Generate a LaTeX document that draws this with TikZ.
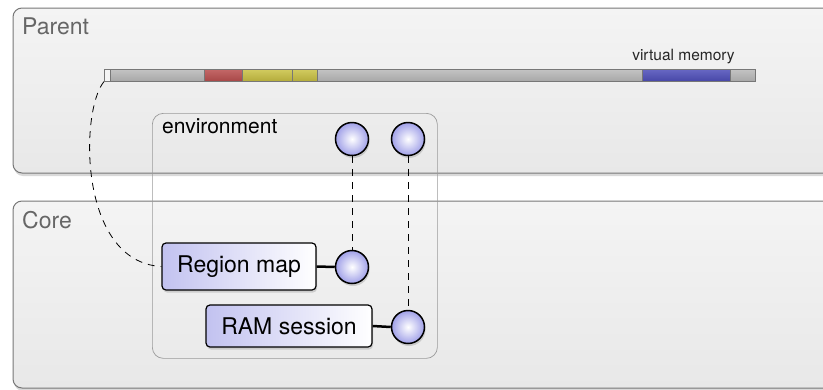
\documentclass[tikz,border=0pt]{standalone}
\usepackage{fontspec}
\setmainfont{TeX Gyre Heros}
\usetikzlibrary{shadows}
\definecolor{panelborder}{HTML}{777777}
\definecolor{paneltop}{HTML}{F4F4F4}
\definecolor{panelbot}{HTML}{E8E8E8}
\definecolor{labelgray}{HTML}{666666}
\definecolor{envborder}{HTML}{9A9A9A}
\definecolor{bargraytop}{HTML}{C4C4C4}
\definecolor{bargraybot}{HTML}{A8A8A8}
\definecolor{barredtop}{HTML}{C46868}
\definecolor{barredbot}{HTML}{A84848}
\definecolor{baryeltop}{HTML}{D2CC60}
\definecolor{baryelbot}{HTML}{B4AC3C}
\definecolor{barbluetop}{HTML}{6868C4}
\definecolor{barbluebot}{HTML}{4848A8}
\definecolor{lav}{HTML}{A0A0E8}
\definecolor{lavbox}{HTML}{C2C2F0}
\begin{document}
\begin{tikzpicture}[x=1pt,y=-1pt,
  panel/.style={draw=panelborder, line width=1pt, rounded corners=9pt,
    top color=paneltop, bottom color=panelbot, inner sep=0pt,
    anchor=north west,
    drop shadow={shadow xshift=1pt, shadow yshift=-3pt, opacity=0.3}},
  panellabel/.style={anchor=base west, inner sep=0pt, text=labelgray,
    font=\fontsize{23}{27}\selectfont},
  envbox/.style={draw=envborder, line width=0.7pt, rounded corners=11pt,
    inner sep=0pt, anchor=north west},
  seg/.style={draw=panelborder, line width=0.6pt},
  port/.style={circle, draw=black, line width=1.5pt, minimum size=33pt,
    inner sep=0pt, inner color=white, outer color=lav,
    drop shadow={shadow xshift=1pt, shadow yshift=-2.5pt, opacity=0.3}},
  objbox/.style={draw=black, line width=1.2pt, rounded corners=4pt,
    left color=lavbox, right color=white, inner sep=0pt,
    font=\fontsize{23}{27}\selectfont,
    drop shadow={shadow xshift=1pt, shadow yshift=-2.5pt, opacity=0.3}},
  link/.style={draw=black, line width=2.5pt},
  dashlink/.style={draw=black, line width=0.8pt, dash pattern=on 7pt off 6pt}]
\useasboundingbox (0,0) rectangle (823,389);
\clip (0,0) rectangle (823,389);

% panels
\node[panel, minimum width=840pt, minimum height=165pt] (parent) at (12.5,7.5) {};
\node[panellabel] (parentlabel) at (22,34) {Parent};
\node[panel, minimum width=840pt, minimum height=187pt] (core) at (12.5,200.5) {};
\node[panellabel] (corelabel) at (22,228) {Core};

% virtual memory bar
\shade[seg, top color=bargraytop, bottom color=bargraybot] (110,69) rectangle (755,81);
\shade[seg, top color=barredtop, bottom color=barredbot] (204,69) rectangle (242,81);
\shade[seg, top color=baryeltop, bottom color=baryelbot] (242,69) rectangle (292,81);
\shade[seg, top color=baryeltop, bottom color=baryelbot] (292,69) rectangle (317,81);
\shade[seg, top color=barbluetop, bottom color=barbluebot] (642,69) rectangle (730,81);
\node[draw=panelborder, fill=paneltop, line width=0.6pt, minimum width=6pt,
  minimum height=12pt, inner sep=0pt, anchor=north west] (sq) at (104,69) {};
\node[anchor=base, inner sep=0pt, font=\fontsize{15.5}{18}\selectfont,
  text=black!85] (vmlabel) at (683.5,60.5) {virtual memory};

% environment
\node[envbox, minimum width=285pt, minimum height=245pt] (env) at (152,113) {};
\node[anchor=base west, inner sep=0pt, font=\fontsize{21}{25}\selectfont]
  (envlabel) at (162,133) {environment};

% objects
\node[objbox, minimum width=154pt, minimum height=47pt] (regionmap) at (239,266.5) {Region map};
\node[objbox, minimum width=166pt, minimum height=42pt] (ramsession) at (289,326) {RAM session};

% ports
\node[port] (envport1) at (352,139) {};
\node[port] (envport2) at (408,139) {};
\node[port] (rmport) at (352,267) {};
\node[port] (ramport) at (408,327) {};

% connectors
\draw[link] (regionmap.east) -- (rmport.west);
\draw[link] (ramsession.east) -- (ramport.west);
\draw[dashlink] (envport1.south) -- (rmport.north);
\draw[dashlink] (envport2.south) -- (ramport.north);
\draw[dashlink] (sq.south west) .. controls (80,110) and (78,262) .. (regionmap.west);
\end{tikzpicture}
\end{document}
